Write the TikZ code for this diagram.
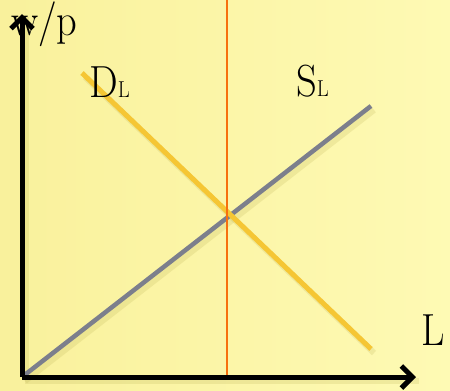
\documentclass[tikz,border=0pt]{standalone}
\usepackage{fontspec}
\usepackage{graphicx}
\usetikzlibrary{arrows.meta}
\definecolor{bgleft}{HTML}{F9F19C}
\definecolor{bgright}{HTML}{FEFAB4}
\definecolor{supplygray}{HTML}{7C7F8C}
\definecolor{demandyellow}{HTML}{F5C634}
\definecolor{eqorange}{HTML}{F7700E}
\definecolor{shadowcol}{HTML}{B8AE50}
\tikzset{
  axisline/.style={line width=5pt, black, -{Straight Barb[length=11pt,width=22pt,line width=5pt]}},
  supplyline/.style={line width=4.5pt, supplygray},
  demandline/.style={line width=5pt, demandyellow},
  eqline/.style={line width=2pt, eqorange},
  shade line/.style={line width=6pt, shadowcol, opacity=0.2},
  lbl/.style={inner sep=0pt, anchor=base west, font=\fontsize{45}{45}\selectfont},
}
\newcommand{\subL}{{\fontsize{23}{23}\selectfont L}}
\begin{document}
\begin{tikzpicture}[x=1pt,y=-1pt]
\useasboundingbox (0,0) rectangle (450,391);
\shade[left color=bgleft, right color=bgright] (0,0) rectangle (450,391);
% coordinates
\coordinate (O) at (22,377);
\coordinate (Ytop) at (22,14);
\coordinate (Xend) at (416,377);
\coordinate (S1) at (22,377);
\coordinate (S2) at (371,106);
\coordinate (D1) at (82,73);
\coordinate (D2) at (371,349);
\coordinate (E1) at (227,0);
\coordinate (E2) at (227,377);
% shadows
\draw[shade line] ([shift={(3,4)}]S1) -- ([shift={(3,4)}]S2);
\draw[shade line] ([shift={(3,4)}]D1) -- ([shift={(3,4)}]D2);
\draw[shade line] ([shift={(3,4)}]O) -- ([shift={(3,4)}]Xend);
\draw[shade line] ([shift={(4,3)}]O) -- ([shift={(4,3)}]Ytop);
% curves
\draw[supplyline] (S1) -- (S2);
\draw[demandline] (D1) -- (D2);
\draw[eqline] (E1) -- (E2);
% axes
\draw[axisline] (O) -- (Ytop);
\draw[axisline] (O) -- (Xend);
% labels
\node[lbl] (wp) at (11,35) {\scalebox{0.9}[1]{w/p}};
\node[lbl] (DL) at (89,97) {\scalebox{0.9}[1]{D\subL}};
\node[lbl] (SL) at (296,96) {\scalebox{0.9}[1]{S\subL}};
\node[lbl] (L) at (421,345) {\scalebox{0.9}[1]{L}};
\end{tikzpicture}
\end{document}
